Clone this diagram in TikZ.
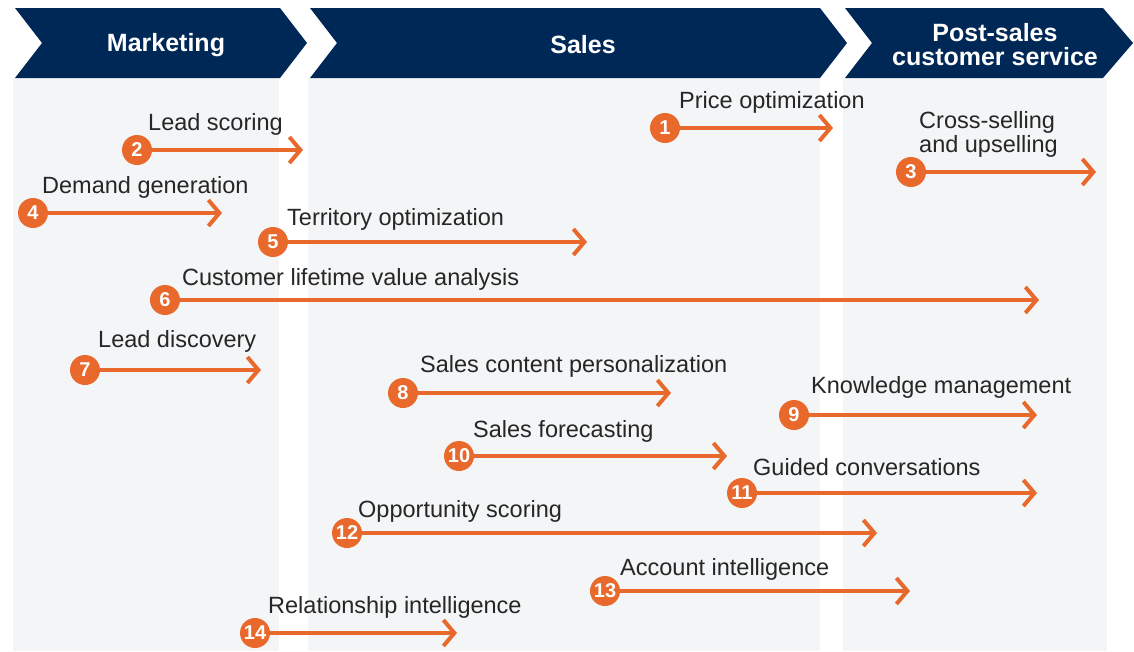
\documentclass[tikz,border=0pt]{standalone}
\usepackage{fontspec}
\setmainfont{Liberation Sans}
\usetikzlibrary{arrows.meta}
\definecolor{navy}{HTML}{002856}
\definecolor{org}{HTML}{E8692B}
\definecolor{colbg}{HTML}{F3F5F6}
\definecolor{txt}{HTML}{262626}
\begin{document}
\begin{tikzpicture}[x=1pt,y=-1pt,
  chev/.style={fill=navy},
  colfill/.style={fill=colbg},
  head/.style={text=white,font=\fontsize{25}{24}\selectfont\bfseries,align=center,inner sep=0pt},
  num/.style={circle,fill=org,text=white,inner sep=0pt,minimum size=30pt,font=\fontsize{20}{20}\selectfont\bfseries},
  lab/.style={anchor=base west,text=txt,font=\fontsize{23.5}{25}\selectfont,inner sep=0pt},
  arr/.style={draw=org,line width=3.8pt,-{Straight Barb[length=11pt,width=26pt,line width=4pt]}}]
\useasboundingbox (0,0) rectangle (1134,651);
% columns
\fill[colfill] (13,78) rectangle (279,651);
\fill[colfill] (308,78) rectangle (820,651);
\fill[colfill] (843,78) rectangle (1107,651);
% chevrons
\fill[chev] (15,8) -- (280,8) -- (307,43) -- (280,78) -- (15,78) -- (42,43) -- cycle;
\fill[chev] (310,8) -- (820,8) -- (847,43) -- (820,78) -- (310,78) -- (337,43) -- cycle;
\fill[chev] (845,8) -- (1103,8) -- (1133,43) -- (1103,78) -- (845,78) -- (872,43) -- cycle;
\node[head] (hm) at (166,45) {Marketing};
\node[head] (hs) at (583,45) {Sales};
\node[head] (hp) at (995,45) {Post-sales\\customer service};
% items
\node[num] (c1) at (665,128) {1};
\coordinate (t1) at (833,128);
\node[lab] (l1) at (679,108) {Price optimization};
\node[num] (c2) at (137,150) {2};
\coordinate (t2) at (303,150);
\node[lab] (l2) at (148,130) {Lead scoring};
\node[num] (c3) at (911,172) {3};
\coordinate (t3) at (1096,172);
\node[lab] (l3a) at (919,128) {Cross-selling};
\node[lab] (l3b) at (919,152) {and upselling};
\node[num] (c4) at (33,213) {4};
\coordinate (t4) at (222,213);
\node[lab] (l4) at (42,193) {Demand generation};
\node[num] (c5) at (273,242) {5};
\coordinate (t5) at (587,242);
\node[lab] (l5) at (287,225) {Territory optimization};
\node[num] (c6) at (165,300) {6};
\coordinate (t6) at (1039,300);
\node[lab] (l6) at (182,285) {Customer lifetime value analysis};
\node[num] (c7) at (85,370) {7};
\coordinate (t7) at (261,370);
\node[lab] (l7) at (98,347) {Lead discovery};
\node[num] (c8) at (403,393) {8};
\coordinate (t8) at (671,393);
\node[lab] (l8) at (420,372) {Sales content personalization};
\node[num] (c9) at (794,415) {9};
\coordinate (t9) at (1037,415);
\node[lab] (l9) at (811,393) {Knowledge management};
\node[num] (c10) at (459,456) {10};
\coordinate (t10) at (727,456);
\node[lab] (l10) at (473,437) {Sales forecasting};
\node[num] (c11) at (742,493) {11};
\coordinate (t11) at (1037,493);
\node[lab] (l11) at (753,475) {Guided conversations};
\node[num] (c12) at (347,533) {12};
\coordinate (t12) at (877,533);
\node[lab] (l12) at (358,517) {Opportunity scoring};
\node[num] (c13) at (605,591) {13};
\coordinate (t13) at (910,591);
\node[lab] (l13) at (620,575) {Account intelligence};
\node[num] (c14) at (255,633) {14};
\coordinate (t14) at (457,633);
\node[lab] (l14) at (268,613) {Relationship intelligence};
\foreach \i in {1,...,14} {
  \draw[arr] (c\i.east) -- (t\i);
}
\end{tikzpicture}
\end{document}
